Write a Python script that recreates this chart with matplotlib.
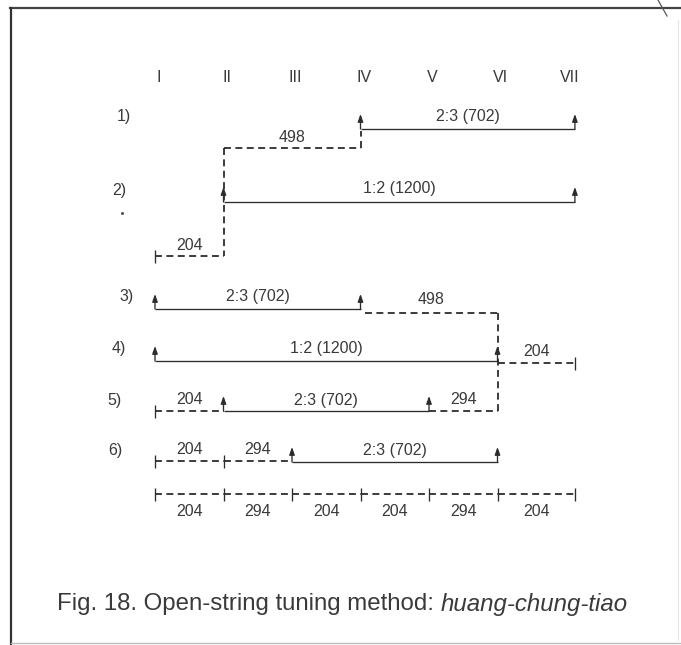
import numpy as np
import matplotlib
matplotlib.use('Agg')
import matplotlib.pyplot as plt
from matplotlib import font_manager

# ---------------- data ----------------
strings = ['I', 'II', 'III', 'IV', 'V', 'VI', 'VII']
row_labels = ['1)', '2)', '3)', '4)', '5)', '6)']

# consonant intervals tuned directly (solid, with arrows): (from, to, label)
tuned_intervals = [
    (3, 6, '2:3 (702)'),
    (1, 6, '1:2 (1200)'),
    (0, 3, '2:3 (702)'),
    (0, 5, '1:2 (1200)'),
    (1, 4, '2:3 (702)'),
    (2, 5, '2:3 (702)'),
]
# resulting intervals (dashed) for each row: (from, to, cents)
dashed_row1 = [(1, 3, 498)]
dashed_row2 = [(0, 1, 204)]
dashed_row3 = [(3, 5, 498)]
dashed_row4 = [(5, 6, 204)]
dashed_row5 = [(0, 1, 204), (4, 5, 294)]
dashed_row6 = [(0, 1, 204), (1, 2, 294)]
final_steps = [204, 294, 204, 204, 294, 204]

caption_plain = 'Fig. 18. Open-string tuning method: '
caption_italic = 'huang-chung-tiao'

# ---------------- style / layout ----------------
avail = {f.name for f in font_manager.fontManager.ttflist}
FONT = 'Liberation Sans' if 'Liberation Sans' in avail else 'DejaVu Sans'
plt.rcParams['font.family'] = [FONT, 'DejaVu Sans']
plt.rcParams['lines.scale_dashes'] = False

W, H = 681, 645
fig = plt.figure(figsize=(W / 100, H / 100), dpi=100)
ax = fig.add_axes([0, 0, 1, 1])
X0, DX = 155.0, 68.5          # pixel position of string I and spacing
ax.set_xlim(-X0 / DX, (W - X0) / DX)
ax.set_ylim(H, 0)
ax.axis('off')

pos = np.arange(len(strings), dtype=float)
pos[-1] = 6.13                 # last string drawn a bit further right

TXT = '#3a3a3a'
LC = '#2c2c2c'
FS = 11.5
SOLID = dict(color=LC, lw=0.95, solid_capstyle='butt')
DASH = dict(color=LC, lw=1.3, linestyle=(0, (5.0, 3.2)), dash_capstyle='butt')

def dxp(p):
    return p / DX

def pxl(xp):
    return (xp - X0) / DX

def arrow(x, ybase, ytip):
    ax.annotate('', xy=(x, ytip), xytext=(x, ybase),
                arrowprops=dict(arrowstyle='-|>,head_length=0.45,head_width=0.16',
                                mutation_scale=10, color=LC, lw=0.95,
                                shrinkA=0, shrinkB=0))

def solid(i, j, y, label, ly, tip=15):
    a, b = pos[i], pos[j]
    ax.plot([a, b], [y, y], **SOLID)
    arrow(a, y, y - tip)
    arrow(b, y, y - tip)
    ax.text((a + b) / 2, ly, label, ha='center', va='center', fontsize=FS, color=TXT)

def dashed(i, j, y, label, ly, start_tick=False, end_tick=False):
    a, b = pos[i], pos[j]
    ax.plot([a, b], [y, y], **DASH)
    if start_tick:
        ax.plot([a, a], [y - 6, y + 7], **SOLID)
    if end_tick:
        ax.plot([b, b], [y - 6, y + 7], **SOLID)
    ax.text((a + b) / 2, ly, str(label),
            ha='center', va='center', fontsize=FS, color=TXT)

def vdash(i, y1, y2):
    ax.plot([pos[i], pos[i]], [y1, y2], **DASH)

# string headers
for k, s in enumerate(strings):
    xx = k + 0.05 if k < 6 else 6.05
    ax.text(xx, 78, s, ha='center', va='center', fontsize=FS, color=TXT)

# row labels
row_y = [116, 191, 297, 348, 400, 450]
row_x = [124, 119, 127, 119, 115, 115]
for lab, yy, xx in zip(row_labels, row_y, row_x):
    ax.text(pxl(xx), yy, lab, ha='center', va='center', fontsize=FS, color=TXT)

# row 1
solid(*tuned_intervals[0][:2], 129, tuned_intervals[0][2], 117)
for (i, j, c) in dashed_row1:
    dashed(i, j, 148, c, 137)
    vdash(j, 148, 131)
    vdash(i, 148, 256)
# row 2
solid(*tuned_intervals[1][:2], 202, tuned_intervals[1][2], 189)
for (i, j, c) in dashed_row2:
    dashed(i, j, 256, c, 245, start_tick=True)
# row 3
solid(*tuned_intervals[2][:2], 309, tuned_intervals[2][2], 297)
for (i, j, c) in dashed_row3:
    a = pos[i] + dxp(4)
    ax.plot([a, pos[j]], [313, 313], **DASH)
    ax.text((a + pos[j]) / 2, 299, str(c), ha='center', va='center', fontsize=FS, color=TXT)
    vdash(j, 313, 412)
# row 4
solid(*tuned_intervals[3][:2], 361, tuned_intervals[3][2], 348)
for (i, j, c) in dashed_row4:
    dashed(i, j, 363, c, 352, end_tick=True)
# row 5
solid(*tuned_intervals[4][:2], 411, tuned_intervals[4][2], 400)
for (i, j, c) in dashed_row5:
    dashed(i, j, 411, c, 400, start_tick=(i == 0))
# row 6
solid(*tuned_intervals[5][:2], 462, tuned_intervals[5][2], 450)
for (i, j, c) in dashed_row6:
    dashed(i, j, 461, c, 450, start_tick=True)

# final scale
yb = 494
for k, c in enumerate(final_steps):
    a, b = pos[k], pos[k + 1]
    ax.plot([a, b], [yb, yb], **DASH)
    ax.text((a + b) / 2, 512, str(c), ha='center', va='center', fontsize=FS, color=TXT)
for k in range(len(strings)):
    ax.plot([pos[k], pos[k]], [yb - 6, yb + 7], **SOLID)

# frame (scan border) and small scan speck
ax.plot([pxl(10), pxl(W)], [8, 8], color='#444444', lw=1.6)
ax.plot([pxl(11), pxl(11)], [8, H], color='#333333', lw=1.6)
ax.plot([pxl(11), pxl(W)], [643, 643], color='#bdbdbd', lw=1.0)
ax.plot([pxl(678), pxl(678)], [20, 640], color='#e6e6e6', lw=0.8)
ax.plot([pxl(658), pxl(667)], [0, 16], color='#555555', lw=0.9)
ax.plot([pxl(122)], [213], marker='o', ms=2.2, color='#555555', mec='none')

# caption
cap = ax.text(pxl(57), 604, caption_plain, ha='left', va='center',
              fontsize=17.3, color=TXT)
fig.canvas.draw()
bb = cap.get_window_extent(renderer=fig.canvas.get_renderer())
xr = ax.transData.inverted().transform((bb.x1, bb.y0))[0]
ax.text(xr, 604, caption_italic, ha='left', va='center', fontsize=17.3,
        style='italic', color=TXT)

fig.savefig('out.png', dpi=100, facecolor='white')
